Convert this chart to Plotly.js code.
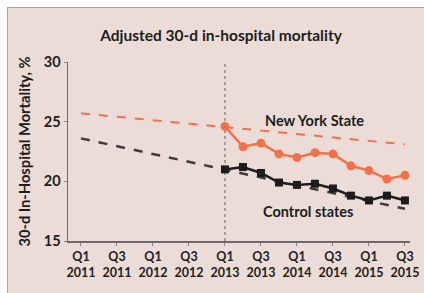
<!DOCTYPE html>
<html>
<head>
<meta charset="utf-8">
<script src="https://cdn.plot.ly/plotly-3.0.1.min.js"></script>
<style>
  html, body { margin: 0; padding: 0; background: #ffffff; }
  #frame { position: absolute; left: 7px; top: 7px; width: 416px; height: 285px;
           border-left: 1px solid #a9a4a3; border-top: 1px solid #a9a4a3; background: #ecdcd8; }
  #chart { width: 416px; height: 285px; }
</style>
</head>
<body>
<div id="frame"><div id="chart"></div></div>
<script>
// ---- data ----
const quarters = ['Q1 2011','Q2 2011','Q3 2011','Q4 2011','Q1 2012','Q2 2012','Q3 2012','Q4 2012',
                  'Q1 2013','Q2 2013','Q3 2013','Q4 2013','Q1 2014','Q2 2014','Q3 2014','Q4 2014',
                  'Q1 2015','Q2 2015','Q3 2015'];
const tickQuarters = ['Q1 2011','Q3 2011','Q1 2012','Q3 2012','Q1 2013','Q3 2013','Q1 2014','Q3 2014','Q1 2015','Q3 2015'];
const tickLabels = ['Q1<br>2011','Q3<br>2011','Q1<br>2012','Q3<br>2012','Q1<br>2013','Q3<br>2013','Q1<br>2014','Q3<br>2014','Q1<br>2015','Q3<br>2015'];
const postQuarters = ['Q1 2013','Q2 2013','Q3 2013','Q4 2013','Q1 2014','Q2 2014','Q3 2014','Q4 2014','Q1 2015','Q2 2015','Q3 2015'];
const nyMortality = [24.6, 22.9, 23.2, 22.3, 22.0, 22.4, 22.3, 21.3, 20.9, 20.2, 20.5];
const controlMortality = [21.0, 21.2, 20.7, 19.9, 19.7, 19.8, 19.4, 18.8, 18.4, 18.8, 18.4];
const trendQuarters = ['Q1 2011', 'Q3 2015'];
const nyTrend = [25.7, 23.1];
const controlTrend = [23.6, 17.7];
const interventionQuarter = 'Q1 2013';
const yTicks = [15, 20, 25, 30];

const orange = '#f2714a';
const dark = '#1c1c1c';
const font = 'Lato, "Open Sans", sans-serif';

const traces = [
  { x: trendQuarters, y: nyTrend, type: 'scatter', mode: 'lines',
    line: { color: orange, width: 2, dash: 'dash' }, hoverinfo: 'skip' },
  { x: trendQuarters, y: controlTrend, type: 'scatter', mode: 'lines',
    line: { color: '#3c3c3c', width: 2.5, dash: 'dash' }, hoverinfo: 'skip' },
  { x: postQuarters, y: nyMortality, type: 'scatter', mode: 'lines+markers', name: 'New York State',
    line: { color: orange, width: 2.5 }, marker: { color: orange, size: 9, symbol: 'circle' } },
  { x: postQuarters, y: controlMortality, type: 'scatter', mode: 'lines+markers', name: 'Control states',
    line: { color: dark, width: 2.5 }, marker: { color: dark, size: 8, symbol: 'square' } }
];

const layout = {
  width: 416, height: 285,
  margin: { l: 60, r: 14, t: 54, b: 52 },
  paper_bgcolor: '#ecdcd8', plot_bgcolor: '#ecdcd8',
  showlegend: false,
  font: { family: font, color: dark },
  title: { text: '<b>Adjusted 30-d in-hospital mortality</b>', x: 0.512, xanchor: 'center',
           y: 0.905, yanchor: 'middle', font: { size: 15.5, family: font, color: dark } },
  xaxis: {
    type: 'category', categoryorder: 'array', categoryarray: quarters,
    range: [-0.72, 18.28], tickmode: 'array', tickvals: tickQuarters, ticktext: tickLabels,
    showgrid: false, zeroline: false, showline: true, linecolor: '#6e6a69', linewidth: 1.5,
    ticks: 'outside', ticklen: 3, tickcolor: '#8a8584', tickangle: 0,
    tickfont: { size: 12.5, family: font, color: dark, weight: 'bold' }
  },
  yaxis: {
    range: [15, 30], tickvals: yTicks, showgrid: false, zeroline: false,
    showline: true, linecolor: '#6e6a69', linewidth: 1.5,
    ticks: 'outside', ticklen: 3, tickcolor: '#8a8584',
    tickfont: { size: 14.5, family: font, color: dark, weight: 'bold' },
    title: { text: '<b>30-d In-Hospital Mortality, %</b>', standoff: 9,
             font: { size: 14.7, family: font, color: dark } }
  },
  shapes: [
    { type: 'line', xref: 'x', yref: 'y', x0: interventionQuarter, x1: interventionQuarter, y0: 15, y1: 30,
      line: { color: '#8d8887', width: 1.5, dash: 'dot' }, layer: 'below' }
  ],
  annotations: [
    { text: '<b>New York State</b>', xref: 'x', yref: 'y', x: 12.95, y: 25.1, showarrow: false,
      font: { size: 14.5, family: font, color: dark } },
    { text: '<b>Control states</b>', xref: 'x', yref: 'y', x: 12.6, y: 17.5, showarrow: false,
      font: { size: 14.5, family: font, color: dark } }
  ]
};

Plotly.newPlot('chart', traces, layout, { displayModeBar: false, staticPlot: true });
</script>
</body>
</html>
